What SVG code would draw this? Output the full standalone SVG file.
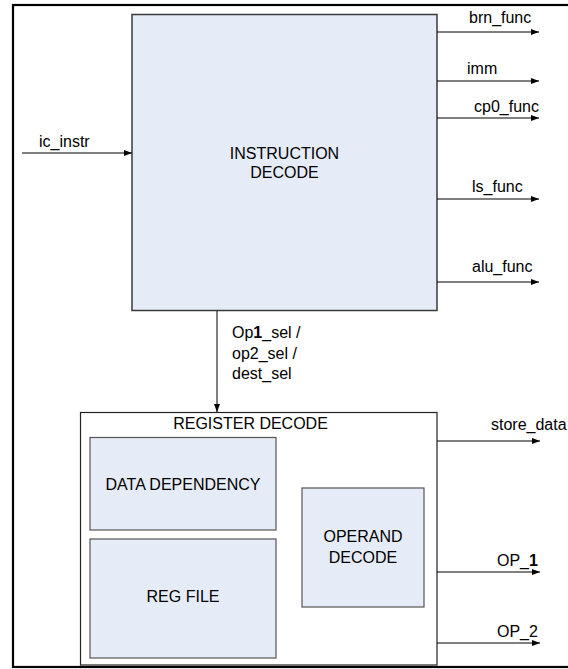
<svg xmlns="http://www.w3.org/2000/svg" width="568" height="669" viewBox="0 0 568 669">
<defs>
<marker id="ah" markerWidth="8" markerHeight="6" refX="8" refY="3" orient="auto" markerUnits="userSpaceOnUse">
<path d="M0,0 L8,3 L0,6 Z" fill="#000"/>
</marker>
<style>
text{font-family:"Liberation Sans",Arial,sans-serif;font-size:16px;fill:#000}
.blk{fill:#E6ECF7;stroke:#3a3a3a;stroke-width:1.5}
.sub{fill:#E6ECF7;stroke:#555;stroke-width:1.2}
.reg{fill:#fff;stroke:#222;stroke-width:1.2}
.c{stroke:#000;stroke-width:1;fill:none;marker-end:url(#ah)}
.m{text-anchor:middle}
</style>
</defs>
<rect x="13" y="5" width="600" height="662" fill="#fff" stroke="#000" stroke-width="2.2"/>
<g id="instruction-decode">
<rect class="blk" x="132" y="14.5" width="305" height="296"/>
<text class="m" x="284.5" y="159">INSTRUCTION</text>
<text class="m" x="284.5" y="178">DECODE</text>
</g>
<g id="register-decode">
<rect class="reg" x="80.5" y="412.5" width="356.5" height="252.5"/>
<text class="m" x="250.5" y="429">REGISTER DECODE</text>
</g>
<g id="data-dependency">
<rect class="sub" x="90" y="437.5" width="186" height="92.5"/>
<text class="m" x="183" y="490">DATA DEPENDENCY</text>
</g>
<g id="reg-file">
<rect class="sub" x="90" y="539" width="186" height="119"/>
<text class="m" x="183" y="602">REG FILE</text>
</g>
<g id="operand-decode">
<rect class="sub" x="302" y="488" width="122" height="119"/>
<text class="m" x="363" y="542">OPERAND</text>
<text class="m" x="363" y="563">DECODE</text>
</g>
<g id="connectors">
<line class="c" x1="22" y1="153" x2="132" y2="153"/>
<line class="c" x1="437" y1="32" x2="539" y2="32"/>
<line class="c" x1="437" y1="81" x2="539" y2="81"/>
<line class="c" x1="437" y1="118" x2="539" y2="118"/>
<line class="c" x1="437" y1="199" x2="539" y2="199"/>
<line class="c" x1="437" y1="282" x2="539" y2="282"/>
<line class="c" x1="217" y1="311" x2="217" y2="412"/>
<line class="c" x1="437" y1="441" x2="540" y2="441"/>
<line class="c" x1="437" y1="572" x2="540" y2="572"/>
<line class="c" x1="437" y1="643" x2="540" y2="643"/>
</g>
<g id="labels">
<text x="39" y="147">ic_instr</text>
<text x="469" y="23">brn_func</text>
<text x="467" y="74">imm</text>
<text x="474" y="112">cp0_func</text>
<text x="472" y="192">ls_func</text>
<text x="472" y="272">alu_func</text>
<text x="232" y="338">Op<tspan font-weight="bold">1</tspan>_sel /</text>
<text x="232" y="358.5">op2_sel /</text>
<text x="232" y="379">dest_sel</text>
<text x="491" y="430">store_data</text>
<text x="497" y="566">OP_<tspan font-weight="bold">1</tspan></text>
<text x="497" y="637">OP_2</text>
</g>
</svg>
